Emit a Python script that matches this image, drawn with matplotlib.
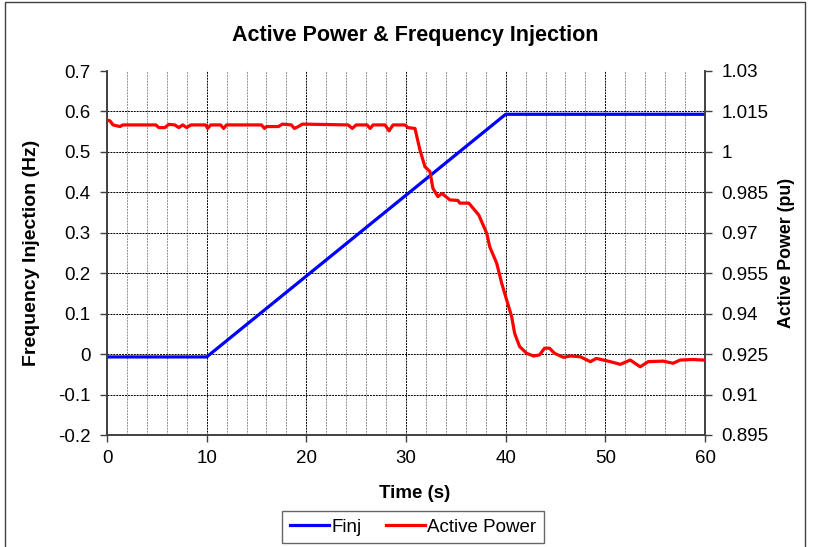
import matplotlib
matplotlib.use('Agg')
import matplotlib.pyplot as plt
import matplotlib.patches as mpatches
import numpy as np

plt.rcParams['font.family'] = ['Liberation Sans', 'DejaVu Sans']
plt.rcParams['axes.unicode_minus'] = False

# ── Data ─────────────────────────────────────────────────────────
finj_time = [0, 10, 40, 60]
finj_hz   = [-0.007, -0.007, 0.593, 0.593]

power_time = [0, 0.3, 0.6, 1.3, 1.6, 4.9, 5.2, 5.8, 6.2, 6.8, 7.2, 7.6, 8.0, 8.4,
              9.9, 10.1, 10.4, 11.4, 11.7, 12.0, 15.5, 15.8, 16.0, 17.2, 17.6,
              18.5, 18.8, 19.2, 19.6, 24.2, 24.6, 25.0, 26.1, 26.4, 26.7, 27.9,
              28.3, 28.7, 29.9, 30.2, 30.9, 31.4, 31.9, 32.4, 32.7, 33.2, 33.6,
              34.4, 35.2, 35.4, 36.3, 37.3, 38.1, 38.4, 39.1, 39.6, 40.1, 40.6,
              40.9, 41.4, 42.1, 42.8, 43.4, 43.9, 44.4, 44.9, 45.8, 46.5, 47.5,
              48.5, 49.1, 50.5, 51.5, 52.5, 53.5, 54.3, 55.8, 56.8, 57.5, 58.8,
              59.8, 60]
power_pu = [1.0118, 1.0115, 1.0100, 1.0094, 1.0100, 1.0100, 1.0090, 1.0090, 1.0102,
            1.0100, 1.0090, 1.0100, 1.0090, 1.0100, 1.0100, 1.0087, 1.0100, 1.0100,
            1.0087, 1.0100, 1.0100, 1.0087, 1.0094, 1.0094, 1.0103, 1.0100, 1.0087,
            1.0094, 1.0103, 1.0100, 1.0087, 1.0100, 1.0100, 1.0087, 1.0100, 1.0100,
            1.0078, 1.0100, 1.0100, 1.0090, 1.0087, 1.0007, 0.9945, 0.9927, 0.9865,
            0.9834, 0.9846, 0.9822, 0.9820, 0.9810, 0.9810, 0.9766, 0.9698, 0.9648,
            0.9587, 0.9513, 0.9451, 0.9389, 0.9327, 0.9278, 0.9253, 0.9243, 0.9247,
            0.9272, 0.9272, 0.9253, 0.9238, 0.9243, 0.9240, 0.9222, 0.9234, 0.9222,
            0.9212, 0.9228, 0.9203, 0.9222, 0.9224, 0.9216, 0.9228, 0.9230, 0.9228,
            0.9228]

left_ticks  = [-0.2, -0.1, 0, 0.1, 0.2, 0.3, 0.4, 0.5, 0.6, 0.7]
right_ticks = [0.895, 0.91, 0.925, 0.94, 0.955, 0.97, 0.985, 1.0, 1.015, 1.03]
x_ticks     = [0, 10, 20, 30, 40, 50, 60]

# ── Figure ───────────────────────────────────────────────────────
fig = plt.figure(figsize=(8.13, 5.47), dpi=100)
ax = fig.add_axes([107 / 813, 1 - 435 / 547, 598 / 813, 364 / 547])
ax2 = ax.twinx()

# outer chart border
fig.patches.append(mpatches.Rectangle((5 / 813, -0.01), 800 / 813, 1.01 - 2 / 547,
                                      transform=fig.transFigure, fill=False,
                                      edgecolor='#404040', linewidth=1.0))

l1, = ax.plot(finj_time, finj_hz, color='#0000FF', lw=2.3, zorder=3, label='Finj')
l2, = ax2.plot(power_time, power_pu, color='#FF0000', lw=2.3, zorder=3,
               label='Active Power')

ax.set_xlim(0, 60)
ax.set_ylim(-0.2, 0.7)
ax2.set_ylim(0.895, 1.03)
ax.set_xticks(x_ticks)
ax.set_xticks(np.arange(0, 61, 2), minor=True)
ax.set_yticks(left_ticks)
ax2.set_yticks(right_ticks)
ax.set_yticklabels([f'{v:g}' for v in left_ticks])
ax2.set_yticklabels([f'{v:g}' for v in right_ticks])

# grid
ax.grid(axis='y', which='major', color='#000000', linestyle=(0, (2, 1)), lw=0.7, zorder=0)
ax.grid(axis='x', which='major', color='#000000', linestyle=(0, (2, 1)), lw=0.7, zorder=0)
ax.grid(axis='x', which='minor', color='#909090', linestyle=(0, (2, 1)), lw=0.7, zorder=0)
ax.yaxis.get_gridlines()[-1].set_visible(False)   # no line along the top edge

for a in (ax, ax2):
    a.spines['top'].set_visible(False)
    for s in ('left', 'right', 'bottom'):
        a.spines[s].set_color('#404040')
        a.spines[s].set_linewidth(1.2)
    a.tick_params(axis='both', which='major', direction='out', length=5,
                  width=1, labelsize=13.5, color='#404040')
ax.tick_params(axis='y', pad=7)
ax2.tick_params(axis='y', pad=7)
ax.tick_params(axis='x', which='minor', length=0)
ax.tick_params(axis='x', pad=6)

fig.text(415 / 813, 1 - 35 / 547, 'Active Power & Frequency Injection',
         fontsize=15.5, fontweight='bold', ha='center', va='center')
ax.set_xlabel('Time (s)', fontsize=13.5, fontweight='bold')
ax.xaxis.set_label_coords((415 - 107) / 598, (435 - 485) / 364)
ax.set_ylabel('Frequency Injection (Hz)', fontsize=14, fontweight='bold')
ax.yaxis.set_label_coords((40 - 107) / 598, 0.5)
ax2.set_ylabel('Active Power (pu)', fontsize=12.8, fontweight='bold')
ax2.yaxis.set_label_coords((778 - 107) / 598, 0.5)

leg = fig.legend(handles=[l1, l2], loc='center', bbox_to_anchor=(413 / 813, 1 - 527 / 547),
                 ncol=2, fontsize=13.5, frameon=True, fancybox=False,
                 handlelength=2.1, handletextpad=0.1, columnspacing=1.3,
                 borderpad=0.4, borderaxespad=0)
leg.get_frame().set_edgecolor('#404040')
leg.get_frame().set_linewidth(1.0)

fig.savefig('out.png', dpi=100)
